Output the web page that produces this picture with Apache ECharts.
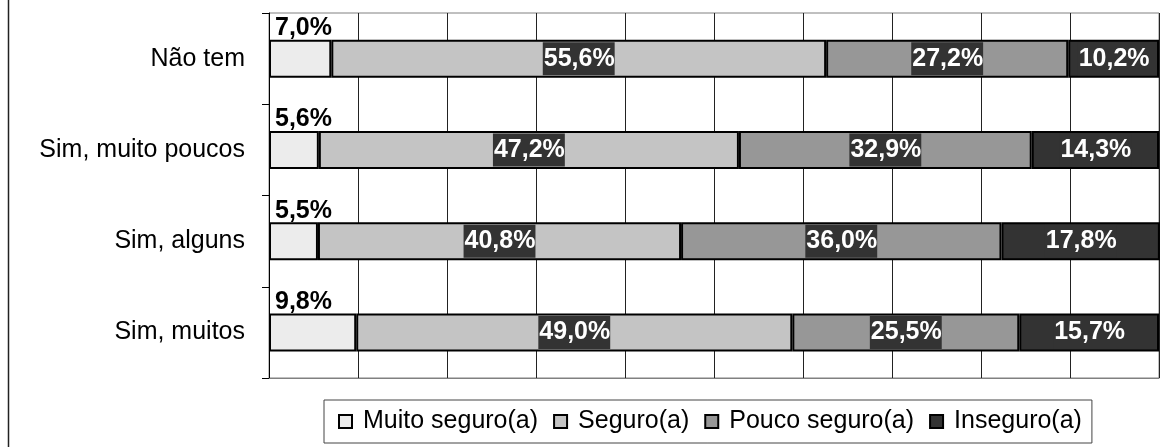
<!DOCTYPE html>
<html>
<head>
<meta charset="utf-8">
<script src="https://cdn.jsdelivr.net/npm/echarts@6/dist/echarts.min.js"></script>
<style>
  html, body { margin: 0; padding: 0; background: #fff; }
  #chart { width: 1165px; height: 447px; }
</style>
</head>
<body>
<div id="chart"></div>
<script>
  // categories top to bottom
  const categories = ["Não tem", "Sim, muito poucos", "Sim, alguns", "Sim, muitos"];
  const seriesNames = ["Muito seguro(a)", "Seguro(a)", "Pouco seguro(a)", "Inseguro(a)"];
  const muitoSeguro = [7.0, 5.6, 5.5, 9.8];
  const seguro = [55.6, 47.2, 40.8, 49.0];
  const poucoSeguro = [27.2, 32.9, 36.0, 25.5];
  const inseguro = [10.2, 14.3, 17.8, 15.7];
  const colors = ["#ececec", "#c4c4c4", "#979797", "#333333"];

  const fmt = p => p.value.toFixed(1).replace(".", ",") + "%";
  const font = "'Liberation Sans', Arial, sans-serif";

  const darkLabel = {
    show: true,
    position: "inside",
    formatter: fmt,
    color: "#fff",
    fontFamily: font,
    fontWeight: "bold",
    fontSize: 25,
    lineHeight: 25,
    backgroundColor: "#333",
    padding: [4, 0, 4, 1],
  };

  const makeSeries = (name, data, color, label) => ({
    name: name,
    type: "bar",
    stack: "total",
    data: data,
    barWidth: 38,
    itemStyle: { color: color, borderColor: "#000", borderWidth: 2 },
    label: label,
    emphasis: { disabled: true },
  });

  const chart = echarts.init(document.getElementById("chart"));
  chart.setOption({
    animation: false,
    textStyle: { fontFamily: font },
    grid: {
      left: 269,
      top: 13,
      right: 6,
      bottom: 69,
      show: true,
      borderColor: "#808080",
      borderWidth: 1,
    },
    legend: {
      left: 324,
      top: 400,
      width: 773,
      height: 45,
      padding: [9, 10, 9, 14],
      borderColor: "#444",
      borderWidth: 1,
      itemWidth: 13,
      itemHeight: 13,
      itemGap: 15,
      icon: "rect",
      textStyle: { fontSize: 25, color: "#000", fontFamily: font, padding: [0, 0, 0, 6] },
      data: seriesNames,
    },
    xAxis: {
      type: "value",
      min: 0,
      max: 100,
      interval: 10,
      axisLabel: { show: false },
      axisTick: { show: false },
      axisLine: { show: true, lineStyle: { color: "#808080", width: 1 } },
      splitLine: { show: true, lineStyle: { color: "#222", width: 1 } },
    },
    yAxis: {
      type: "category",
      inverse: true,
      data: categories,
      axisLine: { show: true, lineStyle: { color: "#000", width: 1 } },
      axisTick: { show: true, length: 7, lineStyle: { color: "#000" } },
      axisLabel: { color: "#000", fontSize: 25, fontFamily: font, margin: 24 },
    },
    graphic: [
      {
        type: "line",
        shape: { x1: 8.5, y1: 0, x2: 8.5, y2: 447 },
        style: { stroke: "#222", lineWidth: 1.5 },
      },
    ],
    series: [
      makeSeries(seriesNames[0], muitoSeguro, colors[0], {
        show: true,
        position: [6, -24],
        formatter: fmt,
        color: "#000",
        fontFamily: font,
        fontWeight: "bold",
        fontSize: 25,
        lineHeight: 25,
      }),
      makeSeries(seriesNames[1], seguro, colors[1], darkLabel),
      makeSeries(seriesNames[2], poucoSeguro, colors[2], darkLabel),
      makeSeries(seriesNames[3], inseguro, colors[3], darkLabel),
    ],
  });
</script>
</body>
</html>
